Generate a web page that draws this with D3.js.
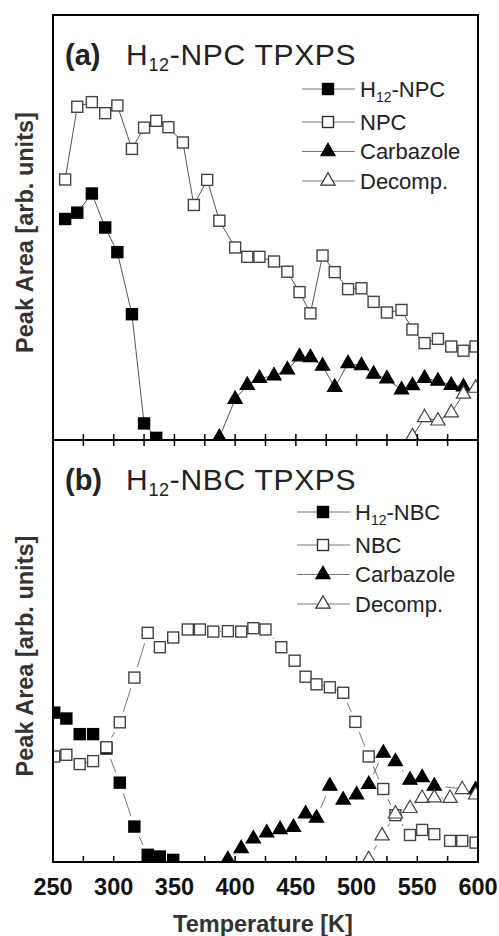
<!DOCTYPE html>
<html>
<head>
<meta charset="utf-8">
<script src="https://cdn.jsdelivr.net/npm/d3@7/dist/d3.min.js"></script>
<style>
  body { margin: 0; background: #fff; }
  text { font-family: "Liberation Sans", Arial, sans-serif; }
</style>
</head>
<body>
<div class="container"></div>
<script>
// ---- data (T in K, peak area in arb. units 0..100) ----
const h12npc = [[260,52.0],[270,53.5],[282,58.0],[293,50.0],[303,44.2],[315,29.6],[325,3.9],[335,0.5]];
const npc = [[260,61.3],[270,78.4],[282,79.5],[293,76.9],[303,78.7],[315,68.5],[325,73.5],[335,75.1],
  [345,73.6],[357,70.0],[366,55.3],[377,61.2],[387,51.6],[400,45.3],[410,43.1],[420,43.1],[432,42.0],
  [443,39.6],[453,34.8],[462,29.8],[472,43.4],[482,39.5],[493,35.5],[504,35.7],[514,32.5],[525,30.0],
  [537,30.6],[546,26.0],[556,22.8],[567,23.8],[578,22.0],[588,21.0],[598,22.0]];
const carbA = [[387,0.6],[400,9.6],[410,12.9],[420,14.5],[432,15.1],[443,16.5],[453,19.6],[462,19.4],
  [472,17.4],[482,12.4],[493,18.0],[504,17.5],[514,15.5],[525,14.4],[537,11.8],[546,12.8],[556,14.5],
  [567,13.9],[578,12.9],[588,12.5]];
const decompA = [[546,0.8],[556,5.3],[567,4.5],[578,6.4],[588,10.8],[598,12.2]];

const h12nbc = [[251,35.4],[261,34.0],[272,30.3],[283,30.3],[294,26.9],[305,18.8],[317,8.4],[328,1.7],
  [338,1.3],[349,0.5]];
const nbc = [[251,25.0],[261,25.4],[272,23.2],[283,23.9],[294,27.2],[305,33.1],[317,43.7],[328,54.3],
  [338,50.9],[349,53.2],[361,55.1],[371,55.1],[382,54.6],[394,54.7],[405,54.6],[415,55.4],[425,55.1],
  [438,50.9],[449,47.7],[458,43.9],[467,42.1],[478,41.4],[489,40.1],[499,33.2],[510,25.0],[522,17.3],
  [532,11.1],[544,6.4],[554,7.6],[564,6.6],[577,5.0],[587,5.0],[598,4.6]];
const carbB = [[394,0.6],[405,3.2],[415,5.5],[426,6.9],[437,7.7],[448,8.2],[458,11.4],[467,10.4],
  [478,18.0],[489,14.7],[500,15.9],[510,18.4],[522,25.8],[532,23.8],[544,19.4],[554,20.0],[564,18.0],
  [598,17.1]];
const decompB = [[510,0.6],[521,6.2],[532,11.4],[544,12.7],[554,15.1],[564,15.2],[577,15.1],[587,17.2],
  [598,15.9]];

const xTicks = d3.range(250, 601, 25);
const xLabels = d3.range(250, 601, 50);

const panels = [
  { id: "a", tag: "(a)", comp: "NPC", top: 15, bottom: 440, gap: 0, lineColor: "#555",
    legendY: 89, legendX: 328,
    series: [
      { name: "H12-NPC", data: h12npc, shape: "square", fill: "#000" },
      { name: "NPC", data: npc, shape: "square", fill: "#fff" },
      { name: "Carbazole", data: carbA, shape: "triangle", fill: "#000" },
      { name: "Decomp.", data: decompA, shape: "triangle", fill: "#fff" }
    ] },
  { id: "b", tag: "(b)", comp: "NBC", top: 440, bottom: 862, gap: 5, lineColor: "#777",
    legendY: 512, legendX: 323,
    series: [
      { name: "H12-NBC", data: h12nbc, shape: "square", fill: "#000" },
      { name: "NBC", data: nbc, shape: "square", fill: "#fff" },
      { name: "Carbazole", data: carbB, shape: "triangle", fill: "#000" },
      { name: "Decomp.", data: decompB, shape: "triangle", fill: "#fff" }
    ] }
];

const W = 499, H = 936;
const left = 53, right = 478;

const svg = d3.select(".container").append("svg")
  .attr("width", W).attr("height", H);

const x = d3.scaleLinear().domain([250, 600]).range([left, right]);

const tri = d3.symbol().type(d3.symbolTriangle).size(88);

function marker(sel, shape, fill, stroke) {
  if (shape === "square") {
    sel.append("rect")
      .attr("x", -5.5).attr("y", -5.5)
      .attr("width", 11).attr("height", 11)
      .attr("fill", fill)
      .attr("stroke", fill === "#000" ? "#000" : stroke)
      .attr("stroke-width", 1.4);
  } else {
    sel.append("path")
      .attr("d", tri)
      .attr("fill", fill)
      .attr("stroke", fill === "#000" ? "#000" : stroke)
      .attr("stroke-width", 1.2);
  }
}

// label with subscript "12" after leading H
function subLabel(textSel, name, small, shift) {
  if (name.startsWith("H12")) {
    textSel.append("tspan").text("H");
    textSel.append("tspan").text("12").attr("font-size", small).attr("dy", shift);
    textSel.append("tspan").text(name.slice(3)).attr("dy", -shift);
  } else {
    textSel.text(name);
  }
}

panels.forEach(p => {
  const y = d3.scaleLinear().domain([0, 100]).range([p.bottom, p.top]);
  const g = svg.append("g");

  svg.append("defs").append("clipPath").attr("id", "clip-" + p.id)
    .append("rect")
      .attr("x", left).attr("y", p.top)
      .attr("width", right - left).attr("height", p.bottom - p.top);

  const plot = g.append("g").attr("clip-path", `url(#clip-${p.id})`);

  p.series.forEach(s => {
    const pts = s.data.map(d => [x(d[0]), y(d[1])]);
    // connecting lines (panel b leaves a small gap at each marker)
    const segs = d3.pairs(pts).map(([a, b]) => {
      const dx = b[0] - a[0], dy = b[1] - a[1];
      const len = Math.hypot(dx, dy);
      const cut = p.gap > 0 ? Math.min(len / 2 - 0.5, 6 + p.gap) : 0;
      const ux = dx / len, uy = dy / len;
      return [[a[0] + ux * cut, a[1] + uy * cut], [b[0] - ux * cut, b[1] - uy * cut]];
    }).filter(sg => p.gap === 0 || Math.hypot(sg[1][0] - sg[0][0], sg[1][1] - sg[0][1]) > 1);

    plot.append("g").selectAll("line")
      .data(segs)
      .join("line")
        .attr("x1", d => d[0][0]).attr("y1", d => d[0][1])
        .attr("x2", d => d[1][0]).attr("y2", d => d[1][1])
        .attr("stroke", p.lineColor)
        .attr("stroke-width", 1);

    plot.append("g").selectAll("g")
      .data(pts)
      .join("g")
        .attr("transform", d => `translate(${d[0]},${d[1]})`)
        .each(function() { marker(d3.select(this), s.shape, s.fill, "#444"); });
  });

  // ticks on the bottom edge pointing inward
  g.append("g").selectAll("line")
    .data(xTicks)
    .join("line")
      .attr("x1", d => x(d)).attr("x2", d => x(d))
      .attr("y1", p.bottom).attr("y2", p.bottom - 6)
      .attr("stroke", "#000").attr("stroke-width", 1.5);

  // panel b also has ticks along its top edge
  if (p.id === "b") {
    g.append("g").selectAll("line")
      .data(xTicks)
      .join("line")
        .attr("x1", d => x(d)).attr("x2", d => x(d))
        .attr("y1", p.top).attr("y2", p.top + 6)
        .attr("stroke", "#000").attr("stroke-width", 1.5);
  }

  // frame
  g.append("rect")
    .attr("x", left).attr("y", p.top)
    .attr("width", right - left).attr("height", p.bottom - p.top)
    .attr("fill", "none").attr("stroke", "#000").attr("stroke-width", 2);

  // title
  g.append("text")
    .attr("x", 65).attr("y", p.top + 50)
    .attr("font-size", 29).attr("font-weight", "bold").attr("fill", "#222")
    .text(p.tag);
  const ttl = g.append("text")
    .attr("x", 126).attr("y", p.top + 50)
    .attr("font-size", 30).attr("letter-spacing", 0.7).attr("fill", "#222");
  subLabel(ttl, "H12-" + p.comp + " TPXPS", 18, 6);

  // legend
  p.series.forEach((s, i) => {
    const ly = p.legendY + (i === 0 ? 0 : 33 + (i - 1) * 29.5);
    const lg = g.append("g").attr("transform", `translate(${p.legendX},${ly})`);
    lg.append("line").attr("x1", -26).attr("x2", 27).attr("y1", 0).attr("y2", 0)
      .attr("stroke", "#777").attr("stroke-width", 1);
    marker(lg, s.shape, s.fill, "#333");
    const t = lg.append("text")
      .attr("x", 32).attr("y", 7.5)
      .attr("font-size", 22).attr("fill", "#222");
    subLabel(t, s.name, 14, 5);
  });

  // y axis title
  g.append("text")
    .attr("transform", `translate(33,${(p.top + p.bottom) / 2 + 5}) rotate(-90)`)
    .attr("text-anchor", "middle")
    .attr("font-size", 23.5).attr("font-weight", "bold").attr("fill", "#333")
    .text("Peak Area [arb. units]");
});

// bottom tick labels and axis title
svg.append("g").selectAll("text")
  .data(xLabels)
  .join("text")
    .attr("x", d => x(d)).attr("y", 895)
    .attr("text-anchor", "middle")
    .attr("font-size", 23.5).attr("font-weight", "bold").attr("fill", "#111")
    .text(d => d);

svg.append("text")
  .attr("x", 263).attr("y", 932)
  .attr("text-anchor", "middle")
  .attr("font-size", 23.5).attr("font-weight", "bold").attr("fill", "#333")
  .text("Temperature [K]");
</script>
</body>
</html>
